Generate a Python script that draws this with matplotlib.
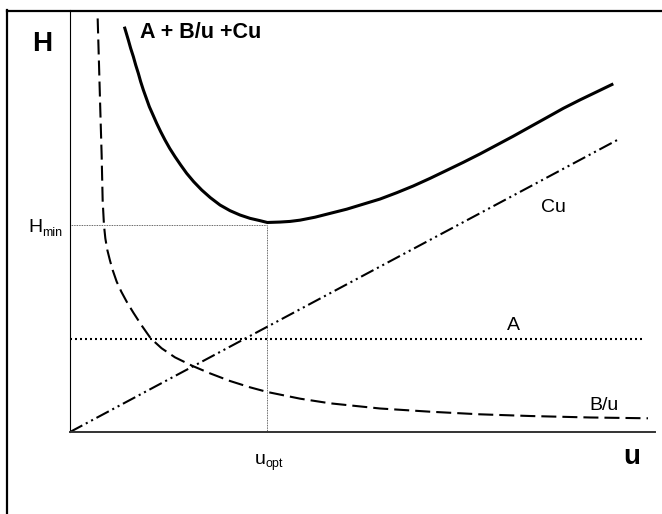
import matplotlib.pyplot as plt
from matplotlib.lines import Line2D

plt.rcParams['font.family'] = ['Liberation Sans', 'DejaVu Sans']

# values (u on a 0-10 scale, H on a 0-10 scale)
u_total = [0.929, 0.963, 0.997, 1.037, 1.083, 1.123, 1.168, 1.208, 1.254, 1.305,
           1.356, 1.419, 1.482, 1.550, 1.624, 1.704, 1.795, 1.892, 1.994, 2.114,
           2.251, 2.399, 2.564, 2.735, 2.906, 3.077, 3.248, 3.373, 3.590, 3.761,
           3.932, 4.188, 4.444, 4.730, 5.014, 5.299, 5.585, 5.868, 6.154, 6.439,
           6.723, 7.009, 7.294, 7.578, 7.863, 8.149, 8.433, 8.718, 9.003, 9.287]
h_total = [9.605, 9.447, 9.289, 9.092, 8.894, 8.697, 8.499, 8.302, 8.104, 7.907,
           7.709, 7.512, 7.314, 7.117, 6.919, 6.722, 6.524, 6.327, 6.130, 5.932,
           5.735, 5.553, 5.379, 5.245, 5.142, 5.063, 5.008, 4.965, 4.975, 4.99,
           5.02, 5.09, 5.18, 5.28, 5.40, 5.52, 5.67, 5.83, 6.01, 6.20,
           6.39, 6.59, 6.80, 7.01, 7.23, 7.45, 7.67, 7.87, 8.06, 8.25]

u_bu = [0.473, 0.496, 0.518, 0.541, 0.558, 0.570, 0.581, 0.604, 0.638, 0.684,
        0.729, 0.798, 0.877, 0.969, 1.083, 1.219, 1.379, 1.567, 1.795, 2.097,
        2.393, 2.735, 3.077, 3.373, 3.932, 4.444, 5.299, 6.154, 7.009, 7.863,
        8.889, 9.880]
h_bu = [9.80, 8.70, 7.63, 6.56, 5.498, 5.182, 4.897, 4.589, 4.313, 4.060,
        3.839, 3.562, 3.325, 3.088, 2.828, 2.536, 2.220, 1.983, 1.769, 1.564,
        1.390, 1.209, 1.059, 0.948, 0.79, 0.680, 0.557, 0.481, 0.419, 0.379,
        0.344, 0.325]

u_cu = [0.0, 9.41]
h_cu = [0.0, 6.96]

u_a = [0.0, 9.83]
h_a = [2.21, 2.21]

u_opt = 3.373
h_min = 4.90

W, H = 662, 514
fig = plt.figure(figsize=(W / 100, H / 100), dpi=100)


def fx(px):
    return px / W


def fy(py):
    return 1 - py / H


# axes box: origin at (70, 432) px, top at y=10, right end at x=655
ax = fig.add_axes([fx(70), fy(432), (655 - 70) / W, (432 - 10) / H])
ax.set_xlim(0, 10)
ax.set_ylim(0, 10)
ax.set_xticks([])
ax.set_yticks([])
for s in ['top', 'right']:
    ax.spines[s].set_visible(False)
ax.spines['left'].set_linewidth(0.8)
ax.spines['left'].set_color('black')
ax.spines['bottom'].set_linewidth(1.4)
ax.spines['bottom'].set_color('#333333')

# guide lines for H_min and u_opt
ax.plot([0, u_opt], [h_min, h_min], color='#333333', lw=0.6, ls=(0, (1, 1)))
ax.plot([u_opt, u_opt], [0, h_min], color='#333333', lw=0.6, ls=(0, (1, 1)))

ax.plot(u_a, h_a, color='black', lw=1.5, ls=(0, (0.96, 1.44)))
ax.plot(u_cu, h_cu, color='black', lw=1.5,
        ls=(0, (6.7, 1.9, 1.0, 1.9, 1.0, 1.9)))
ax.plot(u_bu, h_bu, color='black', lw=1.5, ls=(0, (7.2, 2.9)))
ax.plot(u_total, h_total, color='black', lw=2.2, solid_capstyle='butt',
        solid_joinstyle='round')

# outer frame (only top and left edges fall inside the image)
fig.add_artist(Line2D([fx(7), 1], [fy(10.8), fy(10.8)], color='black', lw=1.6))
fig.add_artist(Line2D([fx(7), fx(7)], [fy(10), 0], color='black', lw=1.6))

# labels
fig.text(fx(32), fy(51), 'H', fontsize=20, fontweight='bold', va='baseline')
fig.text(fx(140), fy(38), 'A + B/u +Cu', fontsize=15.5, fontweight='bold', va='baseline')
fig.text(fx(28), fy(231.7), 'H', fontsize=14, va='baseline')
fig.text(fx(42.5), fy(236), 'min', fontsize=9, va='baseline')
fig.text(fx(255), fy(464), 'u', fontsize=14, va='baseline')
fig.text(fx(266), fy(467), 'opt', fontsize=9, va='baseline')
fig.text(fx(541.5), fy(212), 'Cu', fontsize=14, va='baseline')
fig.text(fx(507), fy(330), 'A', fontsize=14, va='baseline')
fig.text(fx(589), fy(410), 'B/u', fontsize=14, va='baseline')
fig.text(fx(623), fy(464), 'u', fontsize=20, fontweight='bold', va='baseline')

fig.savefig('out.png', dpi=100)
